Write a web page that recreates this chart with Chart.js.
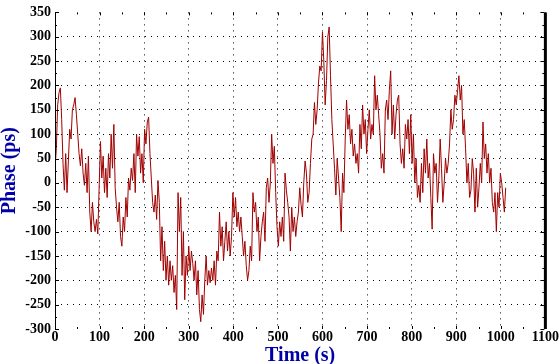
<!doctype html>
<html lang="en">
<head>
<meta charset="utf-8">
<title>Phase vs Time</title>
<script src="https://cdn.jsdelivr.net/npm/chart.js"></script>
<style>
  html, body { margin: 0; padding: 0; background: #fff; }
  #wrap { width: 559px; height: 364px; }
</style>
</head>
<body>
<div id="wrap"><canvas id="phaseChart" width="559" height="364"></canvas></div>
<script>
// sampling of the phase record (one reading every dt seconds, starting at t0)
const t0 = 0;
const dt = 3;

// phase readings in ps
const phase = [
  30, 70, 160, 185, 195, 130, 40, -15, 60, -20, 45,
  110, 90, 150, 160, 175, 140, 100, 60, 35, 70,
  20, -5, 40, -20, 55, -60, -100, -40, -80, -100,
  -75, -105, -10, 85, 10, 55, -20, 30, -30, 60,
  10, 100, 30, 120, -10, -50, -80, -40, -110, -130,
  -70, -100, -30, -70, 10, -15, 30, 5, 60, -20,
  100, 55, 95, 20, 60, 0, 110, 80, 125, 135,
  60, 10, -40, -60, -25, -75, 5, -40, -160, -90,
  -180, -120, -200, -150, -210, -160, -200, -170, -225, -190,
  -260, -20, -100, -30, -190, -100, -240, -150, -190, -130,
  -180, -140, -165, -200, -160, -230, -180, -260, -285, -230,
  -270, -200, -150, -210, -180, -205, -175, -200, -160, -210,
  -140, -160, -60, -130, -90, -160, -120, -80, -140, -100,
  -150, -110, -20, -70, -30, -90, -60, -100, -70, -110,
  -150, -120, -170, -200, -180, -130, -160, -20, -60, -40,
  -100, -70, -160, -110, -80, -60, -120, -10, 10, -40,
  0, 100, 40, 75, -20, -90, -130, -80, -110, -70,
  -120, 20, -15, -40, -70, -140, -50, -100, -70, -110,
  -80, -60, -10, -45, -70, 0, 45, 20, -40, -20,
  40, 90, 100, 165, 120, 150, 205, 240, 230, 310,
  250, 160, 210, 300, 320, 220, 130, 80, 30, -25,
  50, 10, -30, -100, 20, -20, 90, 170, 110, 140,
  80, 110, 55, 80, 40, 60, 20, 120, 70, 160,
  100, 130, 60, 110, 150, 90, 120, 100, 220, 150,
  180, 140, 100, 30, 60, 20, 150, 170, 130, 190,
  230, 100, 160, 90, 140, 170, 180, 80, 40, 70,
  30, 120, 90, 130, 60, 140, 40, 100, 0, 50,
  -30, -5, -40, 40, -20, 70, 20, 90, 10, 40,
  -30, -95, 60, 20, 40, -40, 10, 90, 30, -40,
  0, 50, 20, 40, 80, 150, 110, 130, 180, 160,
  190, 220, 170, 200, 100, 130, 70, 0, 40, -30,
  -15, 50, 20, -60, 30, -50, -10, 40, 0, 125,
  50, 80, 20, 60, 0, 30, -40, -60, -20, -100,
  -20, -50, 20, 0, -30, -60, -10
];

// axis ranges and tick steps
const xRange = [0, 1100];
const xStep = 100;
const yRange = [-300, 350];
const yStep = 50;

const lineColor = '#a00000';
const titleColor = '#0000a8';
const serif = "'Liberation Serif', 'DejaVu Serif', serif";

const points = phase.map((v, i) => ({ x: t0 + i * dt, y: v }));

// axis frame: thin left line, thick right line, small inward ticks
const framePlugin = {
  id: 'frame',
  afterDraw(chart) {
    const { ctx, chartArea: a, scales } = chart;
    const xs = scales.x, ys = scales.y;
    ctx.save();
    ctx.strokeStyle = '#000';
    ctx.lineWidth = 1;
    ctx.beginPath();
    ctx.moveTo(a.left + 0.5, a.top);
    ctx.lineTo(a.left + 0.5, a.bottom);
    ctx.stroke();

    ctx.lineWidth = 3;
    ctx.beginPath();
    ctx.moveTo(a.right, a.top);
    ctx.lineTo(a.right, a.bottom);
    ctx.stroke();

    ctx.lineWidth = 1;
    ctx.beginPath();
    for (let v = xRange[0]; v <= xRange[1]; v += xStep / 2) {
      const px = Math.round(xs.getPixelForValue(v)) + 0.5;
      const len = v % xStep === 0 ? 3 : 2;
      ctx.moveTo(px, a.top); ctx.lineTo(px, a.top + len);
      ctx.moveTo(px, a.bottom); ctx.lineTo(px, a.bottom - len);
    }
    for (let v = yRange[0]; v <= yRange[1]; v += yStep / 2) {
      const py = Math.round(ys.getPixelForValue(v)) + 0.5;
      const len = v % yStep === 0 ? 4 : 2;
      ctx.moveTo(a.left, py); ctx.lineTo(a.left + len, py);
      ctx.moveTo(a.right - 1, py); ctx.lineTo(a.right - 1 - len, py);
    }
    ctx.stroke();
    ctx.restore();
  }
};

const edgeHidden = (ctx, lo, hi) =>
  (ctx.tick && (ctx.tick.value === lo || ctx.tick.value === hi)) ? 'rgba(0,0,0,0)' : '#000';

new Chart(document.getElementById('phaseChart'), {
  type: 'line',
  data: {
    datasets: [{
      label: 'Phase',
      data: points,
      borderColor: lineColor,
      borderWidth: 1,
      pointRadius: 0,
      tension: 0,
      fill: false
    }]
  },
  options: {
    responsive: false,
    animation: false,
    layout: { padding: { top: 5, right: 13, left: 0, bottom: 0 } },
    plugins: { legend: { display: false }, tooltip: { enabled: false } },
    scales: {
      x: {
        type: 'linear',
        min: xRange[0],
        max: xRange[1],
        afterFit: s => { s.height = 35; },
        ticks: {
          stepSize: xStep,
          color: '#000',
          padding: 0,
          maxRotation: 0,
          callback: v => String(v),
          font: { family: serif, size: 14, weight: 'bold' }
        },
        grid: {
          drawTicks: false,
          lineWidth: 1,
          color: c => edgeHidden(c, xRange[0], xRange[1])
        },
        border: { display: false, dash: [1, 5] },
        title: {
          display: true,
          text: 'Time (s)',
          color: titleColor,
          padding: { top: 0, bottom: -3 },
          font: { family: serif, size: 20, weight: 'bold', lineHeight: 1.1 }
        }
      },
      y: {
        type: 'linear',
        min: yRange[0],
        max: yRange[1],
        afterFit: s => { s.width = 55; },
        ticks: {
          stepSize: yStep,
          color: '#000',
          padding: 4,
          font: { family: serif, size: 14, weight: 'bold' }
        },
        grid: {
          drawTicks: false,
          lineWidth: 1,
          color: c => edgeHidden(c, yRange[0], yRange[1])
        },
        border: { display: false, dash: [1, 5] },
        title: {
          display: true,
          text: 'Phase (ps)',
          color: titleColor,
          padding: { top: 0, bottom: 0 },
          font: { family: serif, size: 20, weight: 'bold', lineHeight: 1 }
        }
      }
    }
  },
  plugins: [framePlugin]
});
</script>
</body>
</html>
